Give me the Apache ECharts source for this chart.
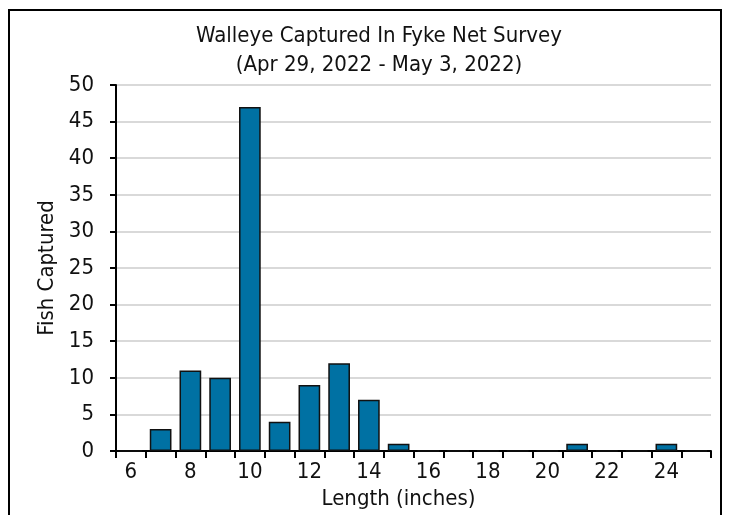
<!DOCTYPE html>
<html>
<head>
<meta charset="utf-8">
<script src="https://cdn.jsdelivr.net/npm/echarts@6/dist/echarts.min.js"></script>
<style>
  html, body { margin: 0; padding: 0; background: #fff; }
  #chart { width: 729px; height: 515px; }
</style>
</head>
<body>
<div id="chart"></div>
<script>
// length classes (inches) and number of walleye in each
const lengths = ['6', '7', '8', '9', '10', '11', '12', '13', '14', '15', '16', '17', '18', '19', '20', '21', '22', '23', '24', '25']
const fishCount = [0, 3, 11, 10, 47, 4, 9, 12, 7, 1, 0, 0, 0, 0, 0, 1, 0, 0, 1, 0]
const titleLines = ['Walleye Captured In Fyke Net Survey', '(Apr 29, 2022 - May 3, 2022)']

const FONT = '"DejaVu Sans Condensed", "Liberation Sans Narrow", sans-serif'

const myChart = echarts.init(document.getElementById('chart'), null, { renderer: 'canvas' })

const option = {
  animation: false,
  backgroundColor: '#fff',
  textStyle: { fontFamily: FONT },
  title: {
    text: titleLines.join('\n'),
    left: 374,
    textAlign: 'center',
    top: 17,
    textStyle: { fontFamily: FONT, fontSize: 22, fontWeight: 'normal', color: '#111', lineHeight: 29 },
  },
  graphic: [
    {
      type: 'rect',
      shape: { x: 9, y: 10, width: 712, height: 530 },
      style: { fill: 'none', stroke: '#000', lineWidth: 2 },
      silent: true,
    },
  ],
  grid: { left: 116, right: 18, top: 85, bottom: 64 },
  xAxis: {
    type: 'category',
    data: lengths,
    name: 'Length (inches)',
    nameLocation: 'middle',
    nameGap: 37,
    nameTextStyle: { fontFamily: FONT, fontSize: 22, color: '#111', padding: [0, 30, 0, 0] },
    axisLine: { lineStyle: { color: '#000', width: 2 } },
    axisTick: { show: true, length: 7, interval: 0, lineStyle: { color: '#000', width: 2 } },
    axisLabel: { interval: 1, margin: 10, fontSize: 22, color: '#111', fontFamily: FONT },
  },
  yAxis: {
    type: 'value',
    min: 0,
    max: 50,
    interval: 5,
    name: 'Fish Captured',
    nameLocation: 'middle',
    nameGap: 57,
    nameTextStyle: { fontFamily: FONT, fontSize: 22, color: '#111' },
    axisLine: { show: true, lineStyle: { color: '#000', width: 2 } },
    axisTick: { show: true, length: 6, lineStyle: { color: '#000', width: 2 } },
    axisLabel: { margin: 22, fontSize: 22, color: '#111', fontFamily: FONT },
    splitLine: { lineStyle: { color: '#d9d9d9', width: 2 } },
  },
  series: [
    {
      type: 'bar',
      data: fishCount,
      barCategoryGap: '27%',
      itemStyle: { color: '#0071a3', borderColor: '#111', borderWidth: 1.5 },
    },
  ],
}

myChart.setOption(option)
</script>
</body>
</html>
